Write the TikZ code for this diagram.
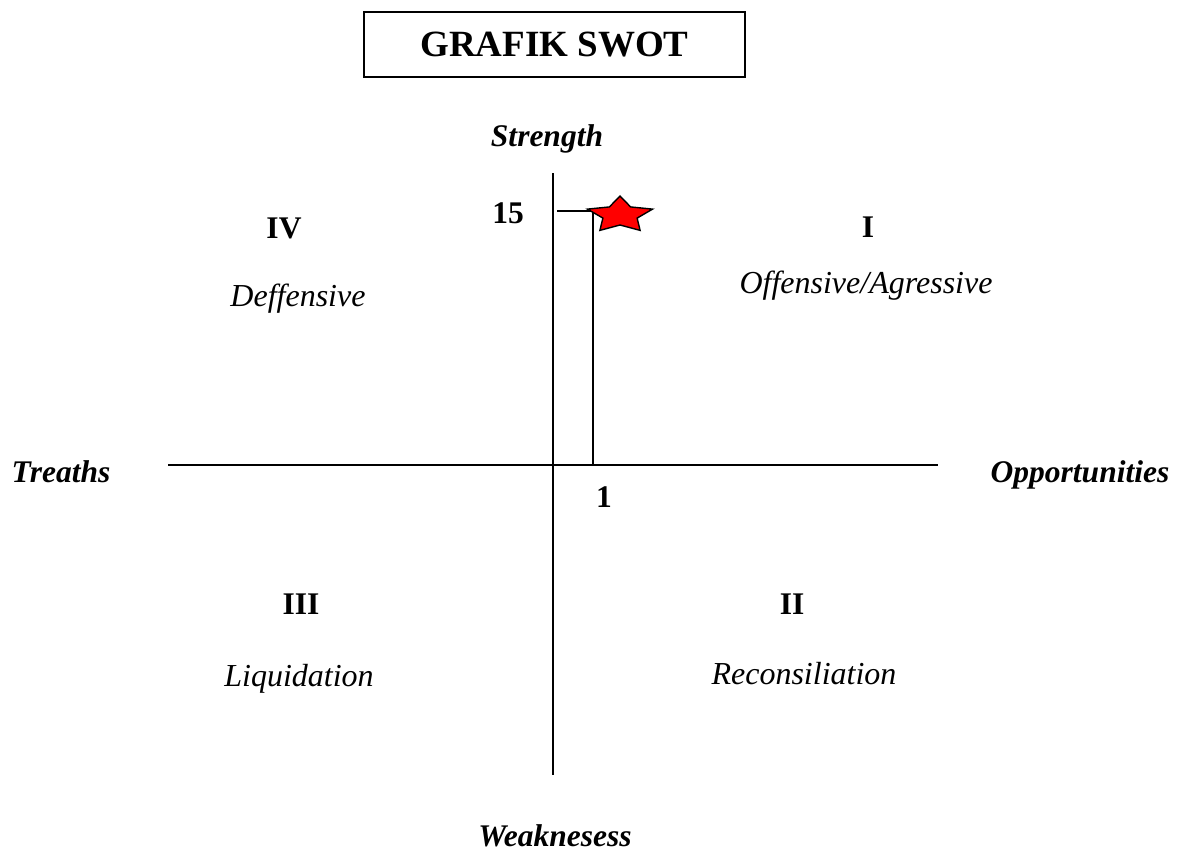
\documentclass[tikz,border=0pt]{standalone}
\usepackage{fontspec}
\setmainfont{Liberation Serif}
\usetikzlibrary{shapes.geometric}

\begin{document}
\begin{tikzpicture}[
    x=1pt,y=-1pt,
    every node/.style={inner sep=0pt},
    axis/.style={line width=1.6pt},
    num/.style={anchor=base,font=\fontsize{31.5}{38}\selectfont\bfseries},
    mode/.style={anchor=base,font=\fontsize{32}{38}\selectfont\itshape},
    side/.style={anchor=base,font=\fontsize{31.5}{38}\selectfont\bfseries\itshape},
    titlebox/.style={draw,line width=1.2pt,minimum width=381pt,minimum height=65pt,font=\fontsize{37}{44}\selectfont\bfseries}
  ]
    \useasboundingbox (0,0) rectangle (1178,854);
    \node[titlebox] (title) at (554.5,44.5) {GRAFIK SWOT};

    % axes
    \coordinate (ytop) at (553,173);
    \coordinate (ybot) at (553,775);
    \coordinate (xleft) at (168,465);
    \coordinate (xright) at (938,465);
    \draw[axis] (ytop) -- (ybot);
    \draw[axis] (xleft) -- (xright);

    % position marker
    \coordinate (s15) at (557,211);
    \coordinate (o1) at (593,465);
    \draw[axis] (s15) -| (o1);
    \begin{scope}[shift={(620,215)},xscale=1.8]
      \node[star,star points=5,star point ratio=1.9,minimum size=38pt,draw,fill=red,line width=1.4pt,transform shape] (goal) {};
    \end{scope}

    \node[side] (strength) at (547,146) {Strength};
    \node[side] (weakness) at (555,846) {Weaknesess};
    \node[side] (threat) at (61,482) {Treaths};
    \node[side] (opport) at (1080,482) {Opportunities};
    \node[num] (v15) at (508,223) {15};
    \node[num] (v1) at (604,507) {1};

    \node[num] (q1) at (868,237) {I};
    \node[mode] (m1) at (866,293) {Offensive/Agressive};
    \node[num] (q2) at (792,614) {II};
    \node[mode] (m2) at (804,684) {Reconsiliation};
    \node[num] (q3) at (301,614) {III};
    \node[mode] (m3) at (299,686) {Liquidation};
    \node[num] (q4) at (284,238) {IV};
    \node[mode] (m4) at (298,306) {Deffensive};
\end{tikzpicture}
\end{document}
